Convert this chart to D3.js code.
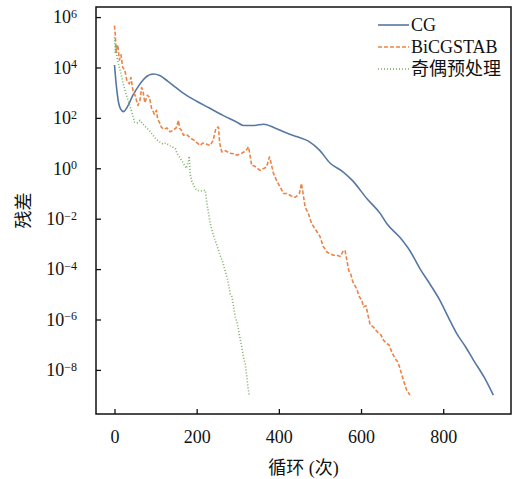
<!DOCTYPE html>
<html>
<head>
<meta charset='utf-8'>
<title>残差</title>
<script src='https://d3js.org/d3.v7.min.js'></script>
<style>
  body { margin: 0; background: #fff; }
  svg { display: block; }
  text { font-family: "Liberation Serif", "Noto Sans CJK SC", serif; fill: #111; }
</style>
</head>
<body>
<div id="container"></div>
<script>

const width = 514,
      height = 479,
      margin = { top: 7, bottom: 65, left: 96, right: 3 };

// iteration numbers and log10(residual)
var cg_iter = [0, 5, 10, 15, 22, 30, 45, 60, 75, 95, 110, 130, 150, 170, 200, 230, 264, 296, 314, 340, 363, 390, 419, 445, 472, 500, 525, 553, 580, 614, 647, 663, 695, 720, 744, 768, 792, 812, 833, 855, 874, 900, 922];
var cg_log = [4.1, 3.2, 2.6, 2.35, 2.25, 2.4, 2.9, 3.3, 3.6, 3.74, 3.68, 3.45, 3.2, 2.95, 2.66, 2.4, 2.1, 1.85, 1.7, 1.7, 1.75, 1.6, 1.4, 1.25, 1.08, 0.7, 0.2, -0.1, -0.5, -1.2, -1.8, -2.2, -2.75, -3.3, -4.0, -4.6, -5.24, -5.9, -6.56, -7.1, -7.62, -8.3, -9.0];

var bi_iter = [0, 2, 4, 8, 12, 16, 20, 25, 30, 36, 40, 45, 50, 57, 62, 66, 69, 74, 80, 85, 90, 97, 102, 105, 110, 114, 120, 128, 135, 142, 150, 156, 158, 163, 168, 175, 185, 195, 208, 215, 223, 233, 240, 247, 253, 256, 261, 270, 280, 290, 298, 310, 320, 326, 329, 334, 340, 354, 363, 370, 377, 379, 387, 395, 405, 411, 420, 430, 440, 450, 455, 458, 464, 472, 480, 490, 500, 508, 517, 525, 533, 541, 550, 556, 561, 565, 570, 575, 580, 590, 596, 602, 606, 612, 618, 622, 630, 640, 648, 655, 663, 668, 675, 683, 690, 695, 703, 711, 719];
var bi_log = [5.66, 5.3, 4.6, 4.9, 4.3, 4.5, 4.0, 3.9, 3.5, 3.35, 3.6, 3.08, 2.9, 2.49, 2.7, 3.2, 3.08, 2.6, 2.9, 2.82, 2.4, 2.15, 2.3, 1.96, 1.8, 1.63, 1.55, 1.6, 1.45, 1.5, 1.6, 1.9, 1.6, 1.5, 1.31, 1.35, 1.2, 1.1, 0.91, 1.0, 0.96, 0.91, 1.1, 1.6, 1.64, 1.0, 0.65, 0.7, 0.6, 0.58, 0.52, 0.6, 0.7, 0.85, 0.6, 0.1, 0.1, -0.08, -0.01, 0.05, 0.45, 0.35, -0.21, -0.5, -0.8, -1.0, -1.0, -1.1, -1.15, -1.0, -0.6, -0.9, -1.54, -1.8, -2.2, -2.45, -2.7, -3.1, -3.32, -3.4, -3.45, -3.45, -3.5, -3.3, -3.25, -3.6, -4.05, -4.2, -4.5, -4.8, -5.1, -5.24, -5.5, -5.45, -5.9, -6.2, -6.3, -6.5, -6.6, -6.83, -6.96, -7.0, -7.3, -7.55, -7.7, -7.95, -8.4, -8.8, -9.0];

var oe_iter = [0, 2, 4, 6, 8, 12, 16, 22, 28, 35, 41, 49, 55, 62, 69, 75, 85, 92, 101, 110, 118, 125, 135, 148, 152, 160, 168, 175, 180, 182, 184, 188, 195, 200, 210, 221, 225, 229, 233, 238, 245, 250, 257, 263, 269, 275, 282, 286, 290, 294, 298, 302, 306, 310, 314, 318, 322, 325, 328];
var oe_log = [5.2, 4.6, 4.9, 4.4, 4.27, 4.0, 3.74, 3.3, 2.95, 2.6, 2.29, 1.83, 1.8, 1.9, 1.76, 1.65, 1.5, 1.35, 1.16, 1.05, 0.96, 1.0, 0.9, 0.78, 0.6, 0.4, 0.19, 0.0, 0.3, 0.48, -0.2, -0.5, -0.75, -0.87, -0.9, -0.87, -1.4, -1.8, -2.19, -2.5, -2.86, -3.1, -3.45, -3.7, -4.05, -4.4, -5.0, -5.1, -5.5, -5.9, -6.1, -6.43, -6.8, -7.1, -7.49, -7.75, -8.28, -8.7, -9.0];

var x_ticks = [0, 200, 400, 600, 800];
var y_exps = [6, 4, 2, 0, -2, -4, -6, -8];
var names = ["CG", "BiCGSTAB", "奇偶预处理"];

var series = [
  { name: names[0], iter: cg_iter, vals: cg_log, color: "#5677a3", dash: null, w: 1.6, curve: d3.curveMonotoneX },
  { name: names[1], iter: bi_iter, vals: bi_log, color: "#ec8446", dash: "4,2", w: 1.6, curve: d3.curveLinear },
  { name: names[2], iter: oe_iter, vals: oe_log, color: "#79b066", dash: "1,2", w: 1.6, curve: d3.curveLinear }
];

var svg = d3.select("#container")
  .append("svg")
  .attr("width", width)
  .attr("height", height);

var x = d3.scaleLinear()
  .domain([-45, 965])
  .range([margin.left, width - margin.right]);

var y = d3.scaleLog()
  .domain([Math.pow(10, -9.75), Math.pow(10, 6.4)])
  .range([height - margin.bottom, margin.top]);

series.forEach(function(s) {
  var pts = s.iter.map(function(it, i) { return [it, s.vals[i]]; });
  var line = d3.line()
    .curve(s.curve)
    .x(function(d) { return x(d[0]); })
    .y(function(d) { return y(Math.pow(10, d[1])); });
  svg.append("path")
    .datum(pts)
    .attr("fill", "none")
    .attr("stroke", s.color)
    .attr("stroke-width", s.w)
    .attr("stroke-dasharray", s.dash)
    .attr("stroke-linejoin", "round")
    .attr("d", line);
});

// frame
svg.append("rect")
  .attr("x", margin.left)
  .attr("y", margin.top)
  .attr("width", width - margin.right - margin.left)
  .attr("height", height - margin.bottom - margin.top)
  .attr("fill", "none")
  .attr("stroke", "#111")
  .attr("stroke-width", 1.5);

var xAxis = svg.append("g")
  .attr("transform", `translate(0, ${height - margin.bottom})`)
  .call(d3.axisBottom(x).tickValues(x_ticks).tickSizeInner(-5).tickSizeOuter(0).tickPadding(16));

var yAxis = svg.append("g")
  .attr("transform", `translate(${margin.left}, 0)`)
  .call(d3.axisLeft(y).tickValues(y_exps.map(function(e) { return Math.pow(10, e); }))
    .tickSizeInner(-5).tickSizeOuter(0).tickPadding(19).tickFormat(""));

[xAxis, yAxis].forEach(function(a) {
  a.select(".domain").remove();
  a.selectAll(".tick line").attr("stroke", "#111").attr("stroke-width", 1.3);
});

xAxis.selectAll(".tick text")
  .style("font-size", "18px")
  .attr("fill", "#111");

yAxis.selectAll(".tick text")
  .style("font-size", "18px")
  .attr("fill", "#111")
  .each(function(d, i) {
    var t = d3.select(this);
    var e = y_exps[i];
    t.append("tspan").text("10");
    t.append("tspan")
      .attr("dy", "-0.45em")
      .style("font-size", "12px")
      .text(e < 0 ? "\u2212" + (-e) : e);
  });

svg.append("text")
  .attr("x", (margin.left + width - margin.right) / 2)
  .attr("y", 474)
  .attr("text-anchor", "middle")
  .style("font-size", "18px")
  .text("循环 (次)");

svg.append("text")
  .attr("transform", `translate(30, ${(margin.top + height - margin.bottom) / 2}) rotate(-90)`)
  .attr("text-anchor", "middle")
  .style("font-size", "18px")
  .text("残差");

// legend
var legend = svg.append("g").attr("transform", "translate(378, 25)");
series.forEach(function(s, i) {
  var g = legend.append("g").attr("transform", `translate(0, ${i * 22})`);
  g.append("line")
    .attr("x1", 0).attr("x2", 31)
    .attr("stroke", s.color)
    .attr("stroke-width", s.w)
    .attr("stroke-dasharray", s.dash);
  g.append("text")
    .attr("x", 33)
    .attr("dy", "0.35em")
    .style("font-size", "18px")
    .text(s.name);
});

</script>
</body>
</html>
